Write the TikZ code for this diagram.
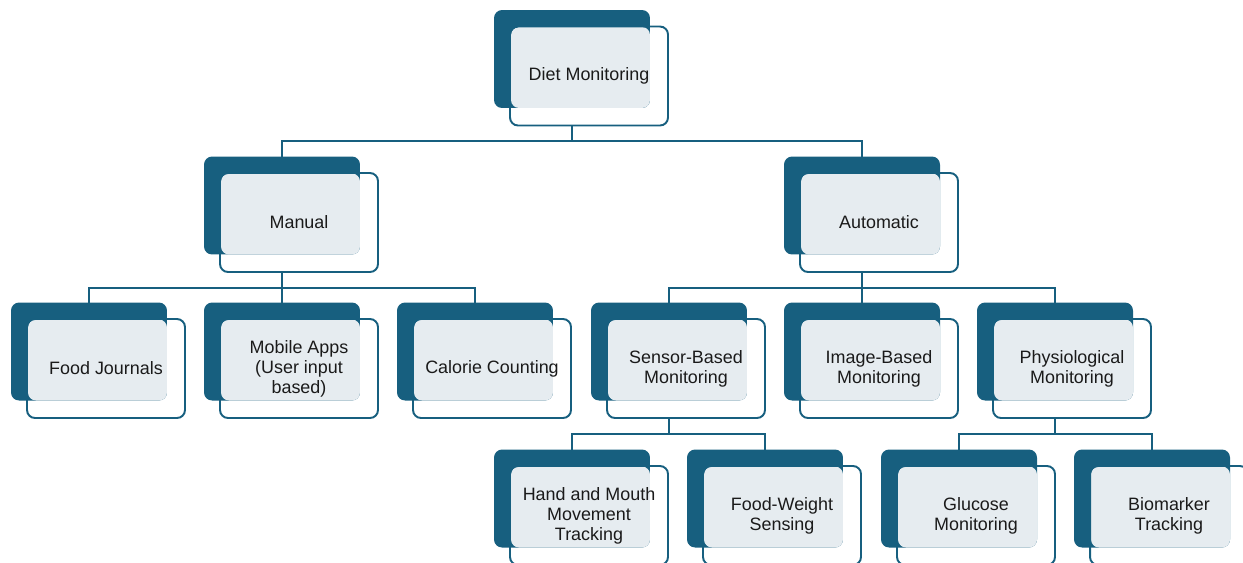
\documentclass[tikz,border=0pt]{standalone}
\usepackage{fontspec}
\setmainfont{Liberation Sans}
\usetikzlibrary{calc}
\definecolor{darkteal}{HTML}{175F7F}
\definecolor{paleblue}{HTML}{E6ECF0}
\definecolor{inktext}{HTML}{1A1A1A}

% back box, pale overlap, outlined front box with the label
\newcommand{\tierbox}[4]{%
	\node[back] (#1b) at (#2,#3) {};
	\fill[pale] ($(#1b.north west)+(17,17)$) rectangle (#1b.south east);
	\node[front] (#1) at ($(#1b)+(17,17)$) {#4};
}

\begin{document}
\begin{tikzpicture}[x=0.02cm,y=-0.02cm]
	\tikzstyle{back}=[rectangle,rounded corners=0.16cm,fill=darkteal,minimum width=3.12cm,minimum height=1.96cm,inner sep=0pt,outer sep=0pt]
	\tikzstyle{pale}=[fill=paleblue,rounded corners=0.16cm]
	\tikzstyle{front}=[rectangle,rounded corners=0.16cm,draw=darkteal,line width=1.1pt,minimum width=3.16cm,minimum height=1.98cm,inner sep=0pt,outer sep=0pt,align=center,text=inktext,font=\fontsize{10.2}{11.3}\selectfont]
	\tikzstyle{link}=[draw=darkteal,line width=0.85pt]
	\useasboundingbox (0,0) rectangle (1243,562);

	% connectors first, boxes on top
	\draw[link] (572,126) -- ++(0,15) -| (282,157);
	\draw[link] (572,141) -| (862,157);

	\draw[link] (282,272) -- ++(0,16) -| (89,303);
	\draw[link] (282,288) -| (475,303);
	\draw[link] (282,288) -- (282,303);

	\draw[link] (862,272) -- ++(0,16) -| (669,303);
	\draw[link] (862,288) -| (1055,303);
	\draw[link] (862,288) -- (862,303);

	\draw[link] (669,418) -- ++(0,16) -| (572,450);
	\draw[link] (669,434) -| (765,450);

	\draw[link] (1055,418) -- ++(0,16) -| (959,450);
	\draw[link] (1055,434) -| (1152,450);

	\tierbox{diet}{572}{59}{Diet Monitoring}

	\tierbox{manual}{282}{205.5}{Manual}
	\tierbox{auto}{862}{205.5}{Automatic}

	\tierbox{journal}{89}{351.5}{Food Journals}
	\tierbox{apps}{282}{351.5}{Mobile Apps\\(User input\\based)}
	\tierbox{calorie}{475}{351.5}{Calorie Counting}
	\tierbox{sensor}{669}{351.5}{Sensor-Based\\Monitoring}
	\tierbox{image}{862}{351.5}{Image-Based\\Monitoring}
	\tierbox{phys}{1055}{351.5}{Physiological\\Monitoring}

	\tierbox{hand}{572}{498.5}{Hand and Mouth\\Movement\\Tracking}
	\tierbox{weight}{765}{498.5}{Food-Weight\\Sensing}
	\tierbox{glucose}{959}{498.5}{Glucose\\Monitoring}
	\tierbox{marker}{1152}{498.5}{Biomarker\\Tracking}
\end{tikzpicture}
\end{document}
